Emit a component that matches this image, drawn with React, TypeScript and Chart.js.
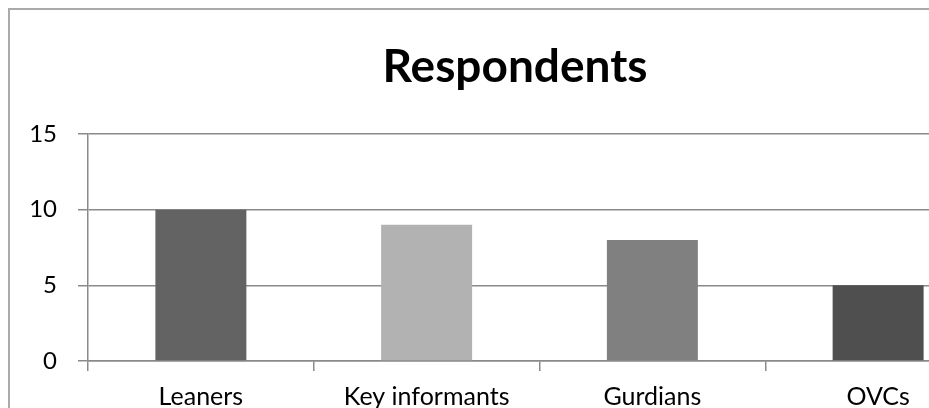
import React, { useEffect, useRef } from 'react';
import { Chart, registerables } from 'chart.js';

Chart.register(...registerables);

const chartTitle = 'Respondents';
const categories = ['Leaners', 'Key informants', 'Gurdians', 'OVCs'];
const respondents = [10, 9, 8, 5];
const barColors = ['#636363', '#b2b2b2', '#808080', '#4f4f4f'];
const yMin = 0;
const yMax = 15;
const yStep = 5;

const GRID = '#8a8a8a';

export default function App() {
  const canvasRef = useRef<HTMLCanvasElement | null>(null);

  useEffect(() => {
    const canvas = canvasRef.current;
    if (!canvas) return;
    const chart = new Chart(canvas, {
      type: 'bar',
      data: {
        labels: categories,
        datasets: [
          {
            label: chartTitle,
            data: respondents,
            backgroundColor: barColors,
            borderWidth: 0,
            categoryPercentage: 1,
            barPercentage: 0.403,
          },
        ],
      },
      options: {
        responsive: false,
        animation: false,
        devicePixelRatio: 1,
        layout: { padding: { left: 0, right: 0, top: 0, bottom: 0 } },
        plugins: {
          legend: { display: false },
          tooltip: { enabled: false },
          title: {
            display: true,
            text: chartTitle,
            color: '#000',
            font: { family: 'Lato', size: 46, weight: 'bold', lineHeight: 1.2 },
            padding: { top: 40, bottom: 38.8 },
          },
        },
        scales: {
          x: {
            offset: true,
            grid: {
              display: true,
              offset: true,
              drawOnChartArea: false,
              drawTicks: true,
              tickLength: 10,
              color: GRID,
              lineWidth: 1.5,
            },
            border: { display: true, color: GRID, width: 1.5 },
            ticks: {
              color: '#000',
              font: { family: 'Lato', size: 25 },
              padding: 11,
              maxRotation: 0,
              autoSkip: false,
            },
            afterFit: (scale: any) => {
              scale.height = 79;
            },
          },
          y: {
            min: yMin,
            max: yMax,
            grid: {
              display: true,
              drawTicks: true,
              tickLength: 10,
              color: GRID,
              lineWidth: 1.5,
            },
            border: { display: true, color: GRID, width: 1.5 },
            ticks: {
              stepSize: yStep,
              color: '#000',
              font: { family: 'Lato', size: 24 },
              padding: 21,
            },
            afterFit: (scale: any) => {
              scale.width = 88;
            },
          },
          yRight: {
            position: 'right',
            display: true,
            min: yMin,
            max: yMax,
            grid: { display: false, drawTicks: false },
            border: { display: false },
            ticks: { display: false },
            afterFit: (scale: any) => {
              scale.width = 39;
            },
          },
        },
      },
    });
    return () => chart.destroy();
  }, []);

  return (
    <div
      style={{
        position: 'fixed',
        left: 0,
        top: 0,
        width: 929,
        height: 408,
        overflow: 'hidden',
        background: '#fff',
      }}
    >
      <div
        style={{
          position: 'absolute',
          left: 8,
          top: 8,
          width: 1100,
          height: 500,
          border: '2px solid #aaaaaa',
          boxSizing: 'border-box',
        }}
      />
      <canvas
        ref={canvasRef}
        width={1030}
        height={440}
        style={{ position: 'absolute', left: 0, top: 0, width: 1030, height: 440 }}
      />
    </div>
  );
}
